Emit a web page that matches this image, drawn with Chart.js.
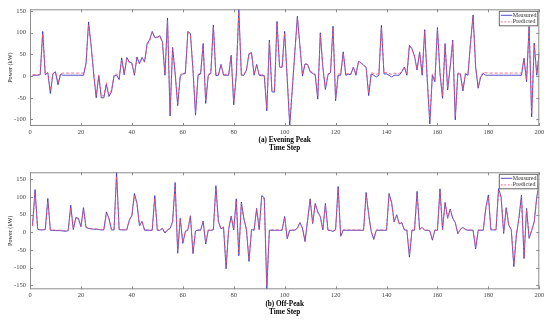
<!DOCTYPE html>
<html><head><meta charset="utf-8">
<script src="https://cdn.jsdelivr.net/npm/chart.js@4/dist/chart.umd.min.js"></script>
<style>
html,body{margin:0;padding:0;background:#fff;width:550px;height:323px;overflow:hidden}
.p{position:absolute;left:0;width:550px}
#w1{top:0;height:162px}
#w2{top:162px;height:161px}
</style></head><body>
<div class="p" id="w1"><canvas id="c1"></canvas></div>
<div class="p" id="w2"><canvas id="c2"></canvas></div>
<script>
// ---- data (time steps 1..200) ----
const steps = Array.from({length: 200}, (_, i) => i + 1);
const seriesNames = ['Measured', 'Predicted'];
const panelTitles = [['(a) Evening Peak', 'Time Step'], ['(b) Off-Peak', 'Time Step']];
const yAxisLabel = 'Power (kW)';
const xTickValues = [0,20,40,60,80,100,120,140,160,180,200];
const eveningYTicks = [-100,-50,0,50,100,150];
const offPeakYTicks = [-150,-100,-50,0,50,100,150];

const eveningMeasured = [
 2,2,2,3,103,3,8,-40,5,10, -20,4,2,2,2,2,2,2,2,2,
 2,29,125,70,5,-50,1,-50,-50,-19, -47,-36,0,2,-8,42,3,43,33,30,
 2,44,29,43,33,75,84,103,89,90, 93,79,2,134,-92,66,6,-68,0,5,
 6,103,98,14,-90,2,5,75,-63,2, 6,118,1,2,27,2,2,2,48,-66,
 2,154,2,2,14,52,54,2,27,2, 1,1,-80,83,-36,-37,126,21,20,103,
 -5,-115,-30,55,138,70,0,28,27,10, 6,2,-53,100,20,-31,2,8,115,-57,
 2,2,56,2,4,4,21,2,34,31, 25,20,-45,5,2,-2,2,117,5,5,
 2,-2,2,2,2,10,21,2,71,63, 46,14,56,2,107,-9,-110,2,-13,112,
 6,-51,75,-32,21,83,-101,5,5,-34, 5,2,78,141,21,-28,-2,6,2,2,
 2,2,2,2,2,2,2,2,2,2, 2,2,2,41,-13,117,-94,76,2,55
];
const eveningPredicted = [
 3,3,3,4,98,5,7,-33,6,9, -15,6,7,7,7,7,7,7,7,7,
 7,30,118,72,8,-45,3,-46,-45,-15, -43,-32,3,5,-3,38,6,40,31,29,
 5,40,28,40,32,72,82,100,88,89, 91,78,5,128,-85,63,8,-63,3,7,
 8,100,96,15,-84,4,7,72,-58,4, 8,114,4,4,26,4,4,5,46,-60,
 4,148,4,4,15,50,53,4,26,4, 3,3,-74,80,-33,-34,122,22,21,100,
 -3,-105,-27,53,134,68,3,28,27,12, 8,5,-48,97,20,-28,5,10,112,-52,
 5,5,54,5,6,6,21,4,33,30, 25,20,-40,8,6,4,6,113,8,8,
 6,4,7,6,6,12,21,5,70,62, 45,15,55,5,103,-6,-102,5,-10,108,
 8,-47,73,-29,22,80,-94,7,7,-30, 7,5,76,137,22,-25,2,9,8,7,
 7,7,7,7,7,7,7,7,7,7, 7,7,7,40,-10,113,-88,74,5,53
];
const offPeakMeasured = [
 20,121,9,7,7,8,96,6,6,5, 5,5,4,3,5,77,8,42,40,16,
 70,14,11,10,9,9,8,7,7,58, 40,7,7,170,8,7,7,7,35,48,
 110,83,18,31,6,6,6,6,104,6, 6,11,-2,7,11,30,141,-59,40,-31,
 2,7,47,-60,4,6,6,32,-33,6, 6,7,132,30,10,15,-103,8,46,7,
 95,-66,86,38,8,-82,8,6,68,8, 104,98,-161,6,6,6,6,6,6,45,
 -18,6,6,6,12,28,12,-26,34,95, 25,82,58,45,7,82,6,5,3,7,
 130,-11,6,6,6,6,6,6,6,6, 6,113,50,2,-20,6,6,6,6,6,
 110,85,30,50,24,28,7,6,-70,6, 6,116,8,14,6,6,4,-22,6,6,
 123,8,85,40,66,40,28,-4,8,14, 8,6,6,6,-47,6,6,6,70,106,
 7,7,7,124,101,-3,70,21,7,-97, -8,40,106,-74,68,-17,5,30,100,140
];
const offPeakPredicted = [
 18,110,10,8,8,9,88,7,7,6, 6,6,5,5,6,70,10,40,38,17,
 65,15,12,11,10,10,9,8,8,54, 38,8,8,160,9,8,8,8,34,47,
 104,80,19,30,7,7,7,7,98,7, 7,11,0,8,11,29,133,-54,38,-28,
 4,8,45,-55,5,7,7,30,-30,7, 7,8,125,29,11,15,-96,9,44,8,
 90,-60,82,37,9,-76,9,7,65,9, 99,94,-150,7,7,7,7,7,7,43,
 -15,7,7,7,12,27,12,-23,33,90, 25,79,56,44,8,78,7,6,4,8,
 123,-8,7,7,7,7,7,7,7,7, 7,108,49,3,-17,7,7,7,7,7,
 105,82,30,48,24,27,8,7,-64,7, 7,110,9,14,7,7,5,-19,7,7,
 117,9,82,40,64,40,28,-2,9,14, 9,7,7,7,-43,7,7,7,67,101,
 8,8,8,118,97,0,67,21,8,-90, -5,39,101,-68,65,-14,6,30,96,134
];

// ---- drawing ----
const SERIF = '"Liberation Serif", "Times New Roman", serif';
const BLUE = 'rgba(55,45,190,0.85)';
const RED = 'rgba(235,85,125,0.85)';

const framePlugin = {
  id: 'frame',
  afterDatasetsDraw(chart, args, opts) {
    const {ctx, chartArea: a, scales: {x, y}} = chart;
    ctx.save();
    ctx.strokeStyle = '#8c8c8c';
    ctx.lineWidth = 1;
    ctx.strokeRect(a.left + 0.5, a.top + 0.5, a.width - 1, a.height - 1);
    ctx.beginPath();
    const tl = 3;
    x.ticks.forEach(t => {
      const px = Math.round(x.getPixelForValue(t.value)) + 0.5;
      ctx.moveTo(px, a.bottom); ctx.lineTo(px, a.bottom - tl);
      ctx.moveTo(px, a.top); ctx.lineTo(px, a.top + tl);
    });
    y.ticks.forEach(t => {
      const py = Math.round(y.getPixelForValue(t.value)) + 0.5;
      ctx.moveTo(a.left, py); ctx.lineTo(a.left + tl, py);
      ctx.moveTo(a.right, py); ctx.lineTo(a.right - tl, py);
    });
    ctx.stroke();
    // legend box
    const bx = a.right - 40.5, by = a.top + 1.5, bw = 39.5, bh = 15.5;
    ctx.fillStyle = '#fff';
    ctx.fillRect(bx, by, bw, bh);
    ctx.strokeStyle = '#666';
    ctx.strokeRect(bx + 0.5, by + 0.5, bw - 1, bh - 1);
    ctx.font = '6px ' + SERIF;
    ctx.textBaseline = 'middle';
    ctx.textAlign = 'left';
    const rows = [[seriesNames[0], BLUE, []], [seriesNames[1], RED, [2, 1.5]]];
    rows.forEach((r, i) => {
      const ry = by + 4.5 + i * 6.6;
      ctx.beginPath();
      ctx.strokeStyle = r[1];
      ctx.setLineDash(r[2]);
      ctx.moveTo(bx + 2, ry); ctx.lineTo(bx + 13.5, ry);
      ctx.stroke();
      ctx.setLineDash([]);
      ctx.fillStyle = '#333';
      ctx.fillText(r[0], bx + 14, ry);
    });
    ctx.restore();
  }
};

function makeChart(id, measured, predicted, ymin, ymax, yTicks, title, padTop, xHeight, titlePadBottom) {
  const toPts = arr => steps.map((s, i) => ({x: s, y: arr[i]}));
  return new Chart(document.getElementById(id), {
    type: 'line',
    data: {
      datasets: [
        {label: seriesNames[0], data: toPts(measured), borderColor: BLUE, borderWidth: 1,
         pointRadius: 0, tension: 0, fill: false, order: 1},
        {label: seriesNames[1], data: toPts(predicted), borderColor: RED, borderWidth: 1,
         borderDash: [3, 2], pointRadius: 0, tension: 0, fill: false, order: 0}
      ]
    },
    options: {
      responsive: true, maintainAspectRatio: false, animation: false, devicePixelRatio: 1,
      layout: {padding: {left: 0, right: 10.7, top: padTop, bottom: 0}},
      plugins: {legend: {display: false}, tooltip: {enabled: false}},
      scales: {
        x: {
          type: 'linear', min: 0, max: 200,
          afterBuildTicks: s => { s.ticks = xTickValues.map(v => ({value: v})); },
          grid: {display: false, drawTicks: false}, border: {display: false},
          ticks: {font: {family: SERIF, size: 6.5}, color: '#444', padding: 2, maxRotation: 0, autoSkip: false},
          title: {display: true, text: title, color: '#000',
                  font: {family: SERIF, size: 7.2, weight: 'bold', lineHeight: 1.08},
                  padding: {top: 0, bottom: titlePadBottom}},
          afterFit: s => { s.height = xHeight; }
        },
        y: {
          type: 'linear', min: ymin, max: ymax,
          afterBuildTicks: s => { s.ticks = yTicks.map(v => ({value: v})); },
          grid: {display: false, drawTicks: false}, border: {display: false},
          ticks: {font: {family: SERIF, size: 6.5}, color: '#444', padding: 4, autoSkip: false},
          title: {display: true, text: yAxisLabel, color: '#222',
                  font: {family: SERIF, size: 6.2}, padding: {top: 6.3, bottom: 0}},
          afterFit: s => { s.width = 30; }
        }
      }
    },
    plugins: [framePlugin]
  });
}

makeChart('c1', eveningMeasured, eveningPredicted, -115, 154, eveningYTicks, panelTitles[0], 9.3, 36, 10.4);
makeChart('c2', offPeakMeasured, offPeakPredicted, -161, 170, offPeakYTicks, panelTitles[1], 10.3, 33.7, 7.4);
</script>
</body></html>
